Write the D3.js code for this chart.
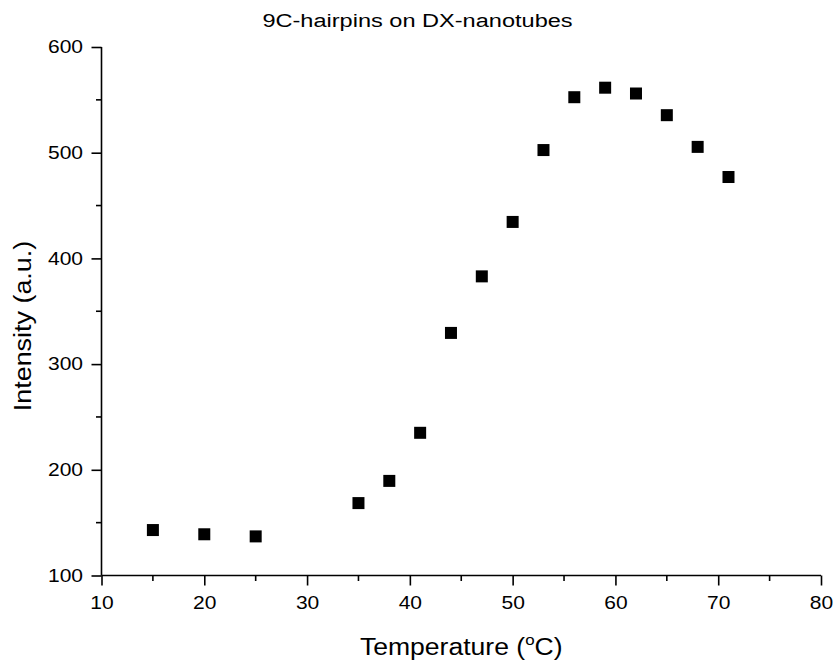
<!DOCTYPE html>
<html><head><meta charset="utf-8">
<script src="https://cdn.jsdelivr.net/npm/d3@7"></script>
<style>body{margin:0;background:#fff}svg{display:block;font-family:"Liberation Sans",Arial,sans-serif}</style>
</head><body>
<script>
const temperature = [15,20,25,35,38,41,44,47,50,53,56,59,62,65,68,71];
const intensity = [143,139,137,168.5,189.5,235,329.5,383,434.5,502.5,552.5,561.5,556,535.5,505.5,477];
const xTicks = [10,20,30,40,50,60,70,80];
const yTicks = [100,200,300,400,500,600];
const xMinor = [15,25,35,45,55,65,75];
const yMinor = [150,250,350,450,550];
const title = "9C-hairpins on DX-nanotubes";

const W = 833, H = 662;
const svg = d3.select("body").append("svg").attr("width", W).attr("height", H);
const x = d3.scaleLinear().domain([10,80]).range([101.5,821]);
const y = d3.scaleLinear().domain([100,600]).range([575.5,47]);

const sw = 1.6;
svg.append("g").selectAll("line").data(xMinor).join("line")
  .attr("x1", d=>x(d)).attr("x2", d=>x(d)).attr("y1", y(100)).attr("y2", y(100)+5.5)
  .attr("stroke","#000").attr("stroke-width",sw);
svg.append("g").selectAll("line").data(yMinor).join("line")
  .attr("y1", d=>y(d)).attr("y2", d=>y(d)).attr("x1", x(10)).attr("x2", x(10)-5.5)
  .attr("stroke","#000").attr("stroke-width",sw);

const xa = svg.append("g").attr("transform",`translate(0,${y(100)})`)
  .call(d3.axisBottom(x).tickValues(xTicks).tickSize(10).tickPadding(11).tickSizeOuter(0));
const ya = svg.append("g").attr("transform",`translate(${x(10)},0)`)
  .call(d3.axisLeft(y).tickValues(yTicks).tickSize(10).tickPadding(8).tickSizeOuter(0));
[xa,ya].forEach(a=>{
  a.selectAll("path,line").attr("stroke","#000").attr("stroke-width",sw);
  a.selectAll("text").attr("font-size",17.5).attr("fill","#000").attr("font-family","Liberation Sans, Arial, sans-serif");
});
xa.selectAll(".tick text").attr("transform","scale(1.2,1)");
ya.selectAll(".tick text").attr("x",0).attr("transform","translate(-18.5,0) scale(1.2,1)");
xa.select(".domain").attr("d",`M${x(10)},0H${x(80)}`);
ya.select(".domain").attr("d",`M0,${y(100)}V${y(600)}`);

svg.append("g").selectAll("rect").data(temperature).join("rect")
  .attr("x",(d,i)=>x(d)-6).attr("y",(d,i)=>y(intensity[i])-6)
  .attr("width",12).attr("height",12).attr("fill","#000");

svg.append("text").attr("transform","translate(417.5,27) scale(1.24,1)").attr("text-anchor","middle")
  .attr("font-size",19).text(title);

const xt = svg.append("text").attr("transform",`translate(${(x(10)+x(80))/2},655) scale(1.13,1)`)
  .attr("text-anchor","middle").attr("font-size",23.5);
xt.append("tspan").text("Temperature (");
xt.append("tspan").attr("font-size",15).attr("dy",-10).text("o");
xt.append("tspan").attr("dy",10).text("C)");

svg.append("text").attr("transform",`translate(31,326) rotate(-90) scale(1.17,1)`)
  .attr("text-anchor","middle").attr("font-size",23).text("Intensity (a.u.)");
</script>
</body></html>
